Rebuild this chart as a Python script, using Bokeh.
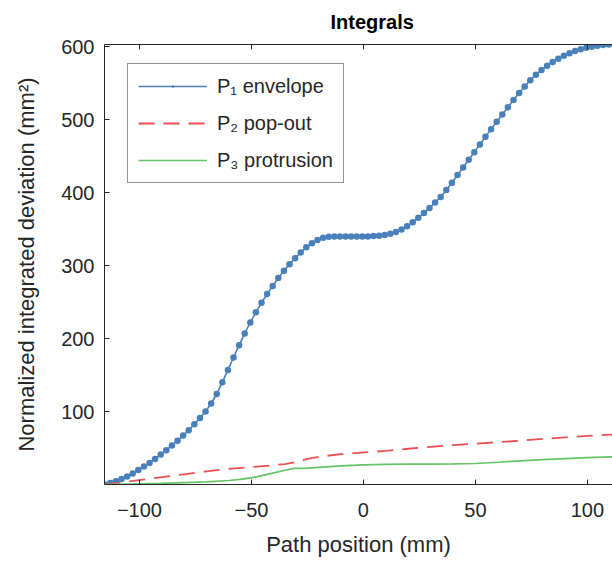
from bokeh.plotting import figure
from bokeh.models import LinearAxis, FixedTicker, Range1d
from bokeh.embed import file_html
from bokeh.resources import INLINE

# Path positions (mm) sampled along the envelope curve
p1_x = [-115.5, -113, -110.5, -108, -105.5, -103, -100.5, -98, -95.5, -93,
        -90.5, -88, -85.5, -83, -80.5, -78, -75.5, -73, -70.5, -68,
        -65.5, -63, -60.5, -58, -55.5, -53, -50.5, -48, -45.5, -43,
        -40.5, -38, -35.5, -33, -30.5, -28, -25.5, -23, -20.5, -18,
        -15.5, -13, -10.5, -8, -5.5, -3, -0.5, 2, 4.5, 7,
        9.5, 12, 14.5, 17, 19.5, 22, 24.5, 27, 29.5, 32,
        34.5, 37, 39.5, 42, 44.5, 47, 49.5, 52, 54.5, 57,
        59.5, 62, 64.5, 67, 69.5, 72, 74.5, 77, 79.5, 82,
        84.5, 87, 89.5, 92, 94.5, 97, 99.5, 102, 104.5, 107,
        109.5, 112]
p1_y = [0, 2, 4.5, 7.5, 11, 15, 20, 24.5, 29.5, 35,
        41, 47, 53.5, 60, 67, 74.5, 82.5, 91, 100, 111,
        124, 140, 157, 174, 191, 207, 222, 236, 249, 261,
        272, 283, 293, 302, 310, 318, 325, 330.5, 335, 338,
        339.5, 340, 340, 340, 340, 340, 340, 340, 340.5, 341,
        342, 343.5, 346, 349.5, 354, 359.5, 365.5, 372, 379, 386.5,
        394, 403.5, 413.5, 424, 434.5, 445, 455.5, 466, 476.5, 487,
        497, 507, 517, 527, 536.5, 545.5, 554, 561.5, 568, 574,
        579, 583.5, 587.5, 591, 594, 596.5, 598.5, 600, 601.2, 602.2,
        603, 603.5]

p2_x = [-115.6, -110, -100, -90, -80, -70, -60, -50, -40, -35, -30, -25, -20,
        -10, 0, 10, 20, 30, 40, 50, 60, 70, 80, 90, 100, 111.2]
p2_y = [0, 2, 6, 10, 14, 18, 21.5, 24, 26.5, 28, 31, 35, 38,
        41.5, 44, 46, 49, 51.5, 54, 56, 58, 60, 62.5, 64.5, 66.5, 68.5]

p3_x = [-115.6, -100, -90, -80, -70, -60, -55, -50, -45, -40, -35, -31, -25,
        -20, -10, 0, 10, 20, 30, 40, 50, 60, 70, 80, 90, 100, 111.2]
p3_y = [0, 1, 1.5, 2.5, 3.5, 5.5, 7, 9, 12.5, 16, 19.5, 22, 22.5,
        23.5, 25.5, 27, 27.5, 28, 28, 28.2, 28.8, 30.5, 32.5, 34, 35.5, 36.8, 38]

x_ticks = [-100, -50, 0, 50, 100]
y_ticks = [100, 200, 300, 400, 500, 600]

FONT = "Liberation Sans"
AXIS_COLOR = "#262626"
BLUE = "#4a80ba"
RED = "#ec4f50"
GREEN = "#66c466"

p = figure(width=612, height=563, output_backend="svg", toolbar_location=None,
           x_range=Range1d(-115.6, 111.2), y_range=Range1d(0, 603),
           min_border_left=104, min_border_right=0, min_border_top=44,
           min_border_bottom=79, background_fill_color="white",
           border_fill_color="white")
p.outline_line_color = None
p.grid.visible = False

# Title, centred over the full axes box (which runs past the right edge)
p.title.text = "Integrals"
p.title.align = "left"
p.title.offset = 226
p.title.vertical_align = "top"
p.title.standoff = 20
p.title.text_font = FONT
p.title.text_font_size = "20px"
p.title.text_font_style = "bold"
p.title.text_color = "#000000"

# Curves
p.line(p1_x, p1_y, line_color=BLUE, line_width=1.6, legend_label="P\u2081 envelope")
p.scatter(p1_x, p1_y, marker="dot", size=26, line_color=BLUE, fill_color=BLUE,
          legend_label="P\u2081 envelope")
p.line(p2_x, p2_y, line_color=RED, line_width=1.8, line_dash="16 9",
       legend_label="P\u2082 pop-out")
p.line(p3_x, p3_y, line_color=GREEN, line_width=1.7,
       legend_label="P\u2083 protrusion")

# Axes
for ax, ticks in ((p.xaxis[0], x_ticks), (p.yaxis[0], y_ticks)):
    ax.ticker = FixedTicker(ticks=ticks)
    ax.axis_line_color = AXIS_COLOR
    ax.major_tick_line_color = AXIS_COLOR
    ax.major_tick_in = 5
    ax.major_tick_out = 0
    ax.minor_tick_line_color = None
    ax.major_label_text_font = FONT
    ax.major_label_text_font_size = "20px"
    ax.major_label_text_color = AXIS_COLOR
    ax.axis_label_text_font = FONT
    ax.axis_label_text_font_size = "22px"
    ax.axis_label_text_font_style = "normal"
    ax.axis_label_text_color = AXIS_COLOR

p.xaxis.axis_label = "Path position (mm)"
p.xaxis.major_label_standoff = 18
p.xaxis.axis_label_standoff = 12
p.yaxis.axis_label = "Normalized integrated deviation (mm\u00b2)"
p.yaxis.major_label_standoff = 10
p.yaxis.axis_label_standoff = 19

# Top box edge with inward ticks and no labels
top = LinearAxis(ticker=FixedTicker(ticks=x_ticks))
top.axis_line_color = AXIS_COLOR
top.major_tick_line_color = AXIS_COLOR
top.major_tick_in = 5
top.major_tick_out = 0
top.minor_tick_line_color = None
top.major_label_overrides = {t: "" for t in x_ticks}
top.major_label_standoff = 0
p.add_layout(top, "above")

# Legend
lg = p.legend[0]
lg.location = (23, 301)
lg.label_text_font = FONT
lg.label_text_font_size = "20px"
lg.label_text_color = AXIS_COLOR
lg.glyph_width = 69
lg.glyph_height = 24
lg.label_height = 24
lg.label_standoff = 10
lg.spacing = 13
lg.padding = 10
lg.margin = 0
lg.border_line_color = AXIS_COLOR
lg.border_line_width = 1
lg.background_fill_color = "white"
lg.background_fill_alpha = 1.0

open("out.html", "w").write(file_html(p, INLINE))
